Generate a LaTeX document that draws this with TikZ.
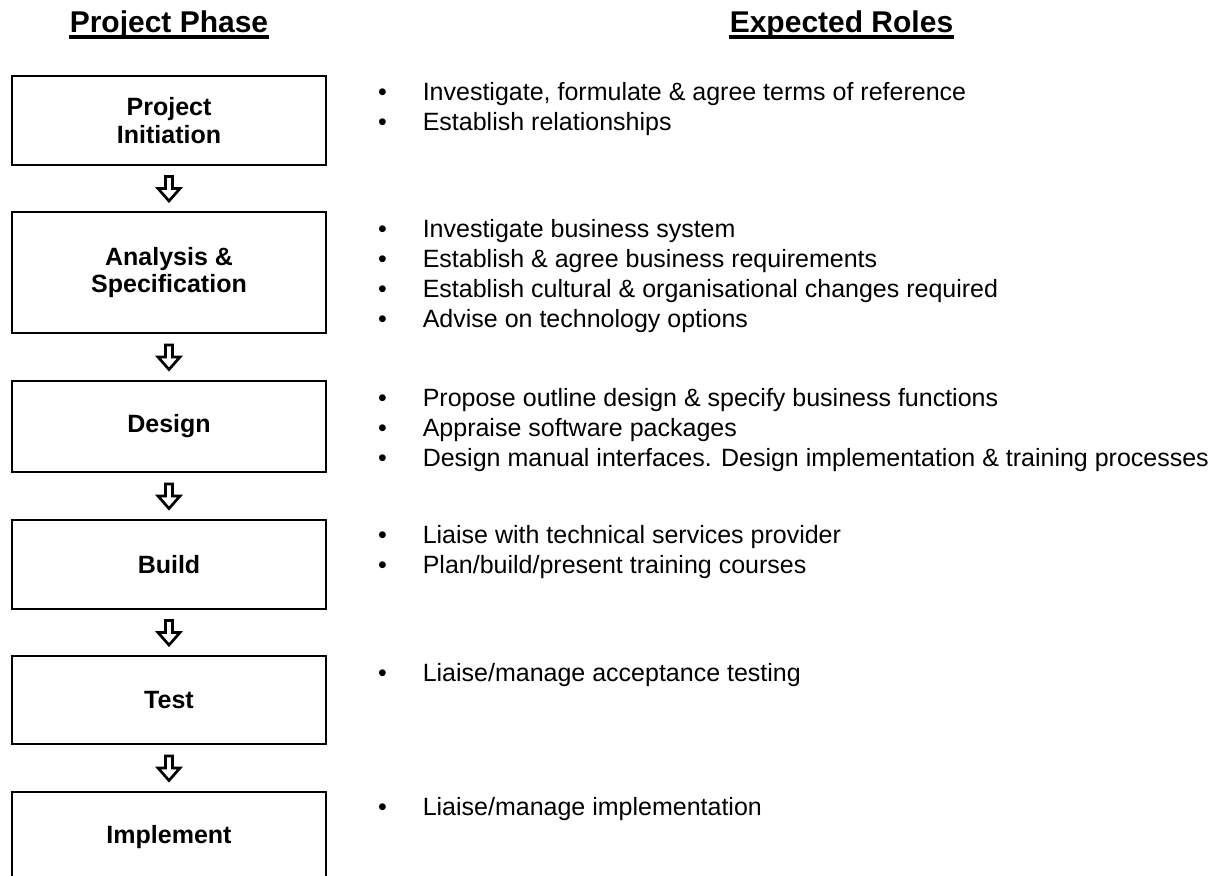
\documentclass[tikz,border=0pt]{standalone}
\usepackage{fontspec}
\setmainfont{Liberation Sans}
\usetikzlibrary{calc}
\newcommand{\bul}{\makebox[21.5pt][l]{\textbullet}}
\newcommand{\rolelist}[1]{\begin{tabular}[t]{@{}l@{}}#1\end{tabular}}
\tikzset{
  phase/.style={draw, line width=1pt, minimum width=150.7pt, inner sep=0pt, align=center,
    font=\fontsize{12}{13.2}\selectfont\bfseries},
  roles/.style={anchor=base west, inner sep=0pt, font=\fontsize{12}{14.4}\selectfont},
  heading/.style={anchor=base, inner sep=0pt, font=\fontsize{14.4}{17}\selectfont\bfseries},
  hollow/.style={line width=1.3pt, fill=white},
}
\begin{document}
\begin{tikzpicture}[x=0.48pt, y=0.48pt]
\useasboundingbox (0,0) rectangle (1212,-875);
% headings
\node[heading] (hphase) at (169,-32.5) {Project Phase};
\node[heading] (hroles) at (841.5,-32.5) {Expected Roles};
\draw[line width=1.7pt] ([yshift=-2.2pt]hphase.base west) -- ([yshift=-2.2pt]hphase.base east);
\draw[line width=1.7pt] ([yshift=-2.2pt]hroles.base west) -- ([yshift=-2.2pt]hroles.base east);
% phases
\node[phase, minimum height=42.7pt] (init) at (169,-120.5) {Project\\Initiation};
\node[phase, minimum height=58.1pt] (spec) at (169,-272.5) {Analysis \&\\Specification};
\node[phase, minimum height=43.7pt] (design) at (169,-426.5) {Design};
\node[phase, minimum height=42.7pt] (build) at (169,-564.5) {Build};
\node[phase, minimum height=42.2pt] (test) at (169,-700) {Test};
\node[phase, minimum height=43.2pt] (impl) at (169,-837) {Implement};
\foreach \a/\b in {init/spec, spec/design, design/build, build/test, test/impl}
  \draw[hollow] ($(\a.south)!.5!(\b.north)$) +(-3.5,12) -- +(3.5,12) -- +(3.5,0)
    -- +(11,0) -- +(0,-12.5) -- +(-11,0) -- +(-3.5,0) -- cycle;
% roles
\node[roles] (rinit) at (377.6,-100) {\rolelist{\bul Investigate, formulate \& agree terms of reference\\
  \bul Establish relationships}};
\node[roles] (rspec) at (377.6,-237) {\rolelist{\bul Investigate business system\\
  \bul Establish \& agree business requirements\\
  \bul Establish cultural \& organisational changes required\\
  \bul Advise on technology options}};
\node[roles] (rdesign) at (377.6,-406) {\rolelist{\bul Propose outline design \& specify business functions\\
  \bul Appraise software packages\\
  \bul Design manual interfaces. Design implementation \& training processes}};
\node[roles] (rbuild) at (377.6,-543) {\rolelist{\bul Liaise with technical services provider\\
  \bul Plan/build/present training courses}};
\node[roles] (rtest) at (377.6,-681) {\rolelist{\bul Liaise/manage acceptance testing}};
\node[roles] (rimpl) at (377.6,-815) {\rolelist{\bul Liaise/manage implementation}};
\end{tikzpicture}
\end{document}
